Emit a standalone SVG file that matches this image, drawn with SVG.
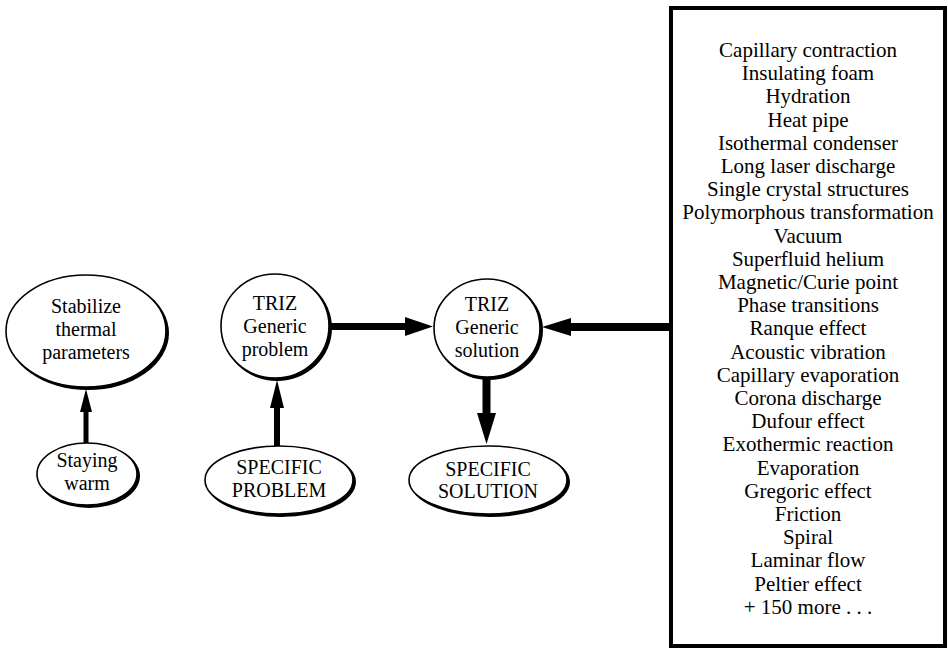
<svg xmlns="http://www.w3.org/2000/svg" width="948" height="650" viewBox="0 0 948 650">
<style>
text{font-family:"Liberation Serif","Times New Roman",serif;fill:#000;text-anchor:middle}
.n{font-size:20px}
.l{font-size:21px}
.sh{fill:#000}
.el{fill:#fff;stroke:#000;stroke-width:1.6}
.c{stroke:#000;fill:none}
</style>
<rect width="948" height="650" fill="#fff"/>
<g id="connectors">
<line class="c" x1="86" y1="444" x2="86" y2="410" stroke-width="5"/>
<path d="M86,389 L80,412 L92,412 z"/>
<line class="c" x1="277" y1="446" x2="277" y2="408" stroke-width="6"/>
<path d="M277,380 L270,408 L284,408 z"/>
<line class="c" x1="330" y1="326.5" x2="408" y2="326.5" stroke-width="7"/>
<path d="M433,326.5 L405,317 L405,336 z"/>
<line class="c" x1="570" y1="327" x2="670" y2="327" stroke-width="8"/>
<path d="M542,327 L571,318 L571,336 z"/>
<line class="c" x1="486.5" y1="377" x2="486.5" y2="416" stroke-width="8"/>
<path d="M486.5,444 L477,413 L496,413 z"/>
</g>
<g id="n-stabilize">
<ellipse class="sh" cx="88" cy="333" rx="81" ry="57"/>
<ellipse class="el" cx="86" cy="331" rx="80" ry="56"/>
<text class="n" x="86" y="313">Stabilize</text>
<text class="n" x="86" y="336">thermal</text>
<text class="n" x="86" y="359">parameters</text>
</g>
<g id="n-staying">
<ellipse class="sh" cx="89" cy="476" rx="51" ry="32"/>
<ellipse class="el" cx="87" cy="474" rx="50" ry="31"/>
<text class="n" x="87" y="467">Staying</text>
<text class="n" x="87" y="490">warm</text>
</g>
<g id="n-triz-problem">
<ellipse class="sh" cx="277" cy="328" rx="55" ry="53"/>
<ellipse class="el" cx="275" cy="326" rx="54" ry="52"/>
<text class="n" x="275" y="310">TRIZ</text>
<text class="n" x="275" y="333">Generic</text>
<text class="n" x="275" y="356">problem</text>
</g>
<g id="n-specific-problem">
<ellipse class="sh" cx="281" cy="482" rx="75" ry="35"/>
<ellipse class="el" cx="279" cy="480" rx="74" ry="34"/>
<text class="n" x="279" y="474">SPECIFIC</text>
<text class="n" x="279" y="497">PROBLEM</text>
</g>
<g id="n-triz-solution">
<ellipse class="sh" cx="489" cy="330" rx="54" ry="50"/>
<ellipse class="el" cx="487" cy="328" rx="53" ry="49"/>
<text class="n" x="487" y="311">TRIZ</text>
<text class="n" x="487" y="334">Generic</text>
<text class="n" x="487" y="357">solution</text>
</g>
<g id="n-specific-solution">
<ellipse class="sh" cx="490" cy="482" rx="80" ry="35"/>
<ellipse class="el" cx="488" cy="480" rx="79" ry="34"/>
<text class="n" x="488" y="476">SPECIFIC</text>
<text class="n" x="488" y="498">SOLUTION</text>
</g>
<g id="n-effects">
<rect x="671" y="8" width="274" height="638" fill="#fff" stroke="#000" stroke-width="4"/>
<text class="l" x="808" y="57">Capillary contraction</text>
<text class="l" x="808" y="80.2">Insulating foam</text>
<text class="l" x="808" y="103.4">Hydration</text>
<text class="l" x="808" y="126.6">Heat pipe</text>
<text class="l" x="808" y="149.8">Isothermal condenser</text>
<text class="l" x="808" y="173">Long laser discharge</text>
<text class="l" x="808" y="196.2">Single crystal structures</text>
<text class="l" x="808" y="219.4">Polymorphous transformation</text>
<text class="l" x="808" y="242.6">Vacuum</text>
<text class="l" x="808" y="265.8">Superfluid helium</text>
<text class="l" x="808" y="289">Magnetic/Curie point</text>
<text class="l" x="808" y="312.2">Phase transitions</text>
<text class="l" x="808" y="335.4">Ranque effect</text>
<text class="l" x="808" y="358.6">Acoustic vibration</text>
<text class="l" x="808" y="381.8">Capillary evaporation</text>
<text class="l" x="808" y="405">Corona discharge</text>
<text class="l" x="808" y="428.2">Dufour effect</text>
<text class="l" x="808" y="451.4">Exothermic reaction</text>
<text class="l" x="808" y="474.6">Evaporation</text>
<text class="l" x="808" y="497.8">Gregoric effect</text>
<text class="l" x="808" y="521">Friction</text>
<text class="l" x="808" y="544.2">Spiral</text>
<text class="l" x="808" y="567.4">Laminar flow</text>
<text class="l" x="808" y="590.6">Peltier effect</text>
<text class="l" x="808" y="613.8">+ 150 more . . .</text>
</g>
</svg>
